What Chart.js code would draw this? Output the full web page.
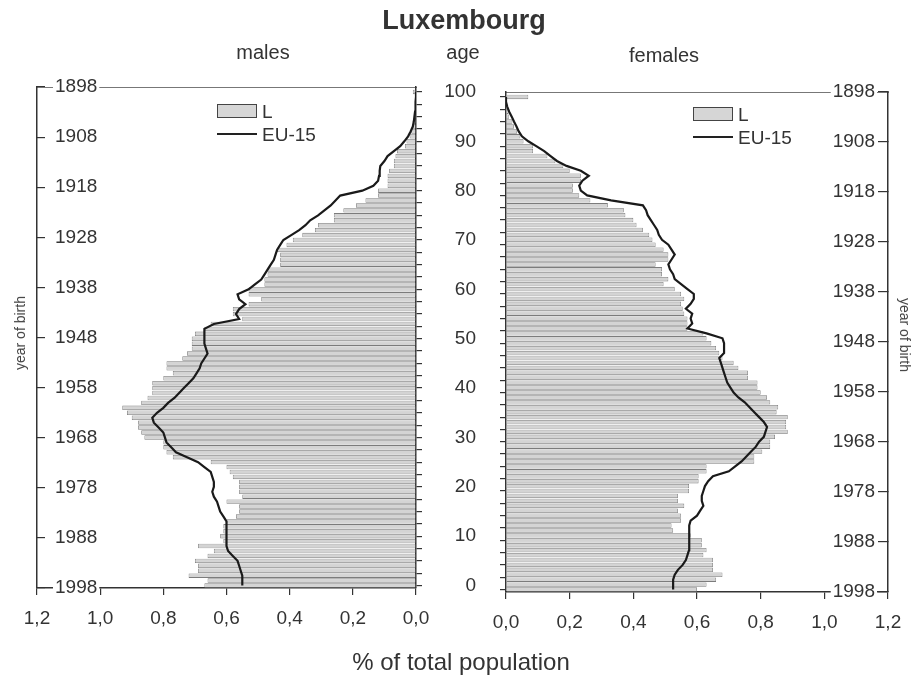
<!DOCTYPE html>
<html>
<head>
<meta charset="utf-8">
<script src="https://cdn.jsdelivr.net/npm/chart.js@4.4.1/dist/chart.umd.min.js"></script>
<style>
  body { margin: 0; background: #fff; font-family: "Liberation Sans", Arial, sans-serif; color: #333; }
  #wrap { position: relative; width: 920px; height: 679px; overflow: hidden; background: #fff; }
  canvas { position: absolute; top: 0; }
  .txt { position: absolute; white-space: nowrap; transform: translate(-50%, -50%); line-height: 1; }
  .lbl { position: absolute; white-space: nowrap; transform: translateY(-50%); font-size: 19px; line-height: 1; }
  .box { position: absolute; border: 1.5px solid #444; background: #d6d6d6; box-sizing: border-box; }
  .ln { position: absolute; height: 2px; background: #222; }
  .rot { font-size: 14px; font-weight: normal; color: #444; }
</style>
</head>
<body>
<div id="wrap">
  <canvas id="males" width="480" height="679" style="left:0"></canvas>
  <canvas id="females" width="440" height="679" style="left:480px"></canvas>

  <div class="txt" style="left:464px; top:20px; font-size:27px; font-weight:bold;">Luxembourg</div>
  <div class="txt" style="left:263px; top:52px; font-size:20px;">males</div>
  <div class="txt" style="left:463px; top:52px; font-size:20px;">age</div>
  <div class="txt" style="left:664px; top:55px; font-size:20px;">females</div>
  <div class="txt" style="left:461px; top:662px; font-size:24px;">% of total population</div>
  <div class="txt rot" style="left:20px; top:333px; transform: translate(-50%, -50%) rotate(-90deg);">year of birth</div>
  <div class="txt rot" style="left:905px; top:335px; transform: translate(-50%, -50%) rotate(90deg);">year of birth</div>

  <!-- legends -->
  <div class="box" style="left:217px; top:104px; width:40px; height:14px;"></div>
  <div class="lbl" style="left:262px; top:111px;">L</div>
  <div class="ln" style="left:217px; top:133px; width:40px;"></div>
  <div class="lbl" style="left:262px; top:134px;">EU-15</div>

  <div class="box" style="left:693px; top:107px; width:40px; height:14px;"></div>
  <div class="lbl" style="left:738px; top:114px;">L</div>
  <div class="ln" style="left:693px; top:136px; width:40px;"></div>
  <div class="lbl" style="left:738px; top:137px;">EU-15</div>
</div>

<script>
// single years of age, 0 .. 100+
const ages = [0,1,2,3,4,5,6,7,8,9,10,11,12,13,14,15,16,17,18,19,20,21,22,23,24,25,26,27,28,29,
  30,31,32,33,34,35,36,37,38,39,40,41,42,43,44,45,46,47,48,49,50,51,52,53,54,55,56,57,58,59,
  60,61,62,63,64,65,66,67,68,69,70,71,72,73,74,75,76,77,78,79,80,81,82,83,84,85,86,87,88,89,
  90,91,92,93,94,95,96,97,98,99,100];

// Luxembourg, % of total population
const maleL = [0.67,0.66,0.72,0.69,0.69,0.70,0.66,0.64,0.69,0.61,
  0.62,0.61,0.61,0.60,0.57,0.56,0.56,0.60,0.55,0.56,
  0.56,0.56,0.58,0.59,0.60,0.65,0.77,0.79,0.80,0.80,
  0.86,0.87,0.88,0.88,0.90,0.915,0.93,0.87,0.85,0.835,
  0.835,0.835,0.80,0.77,0.79,0.79,0.74,0.725,0.71,0.71,
  0.71,0.70,0.67,0.65,0.55,0.58,0.58,0.53,0.49,0.53,
  0.53,0.48,0.48,0.47,0.47,0.43,0.43,0.43,0.44,0.41,
  0.39,0.36,0.32,0.31,0.26,0.26,0.23,0.19,0.16,0.12,
  0.12,0.09,0.09,0.09,0.085,0.07,0.07,0.065,0.06,0.035,
  0.03,0.02,0.015,0.01,0.008,0.006,0.004,0.003,0.002,0.001,
  0.01];

const maleEU = [0.55,0.55,0.55,0.555,0.56,0.565,0.58,0.595,0.60,0.60,
  0.60,0.60,0.60,0.60,0.61,0.62,0.625,0.63,0.64,0.645,
  0.64,0.64,0.645,0.65,0.67,0.69,0.725,0.76,0.775,0.79,
  0.795,0.80,0.815,0.83,0.835,0.82,0.80,0.785,0.765,0.75,
  0.735,0.72,0.705,0.695,0.685,0.68,0.67,0.66,0.665,0.67,
  0.67,0.67,0.67,0.64,0.56,0.57,0.56,0.54,0.56,0.565,
  0.53,0.51,0.49,0.48,0.47,0.46,0.45,0.445,0.44,0.43,
  0.42,0.395,0.37,0.35,0.335,0.31,0.29,0.27,0.255,0.24,
  0.17,0.135,0.12,0.117,0.115,0.113,0.10,0.09,0.07,0.05,
  0.037,0.025,0.017,0.01,0.007,0.005,0.003,0.002,0.001,0,
  0];

const femaleL = [0.60,0.63,0.66,0.68,0.65,0.65,0.65,0.62,0.63,0.615,
  0.615,0.58,0.525,0.52,0.55,0.55,0.54,0.56,0.54,0.54,
  0.575,0.575,0.605,0.605,0.63,0.63,0.78,0.78,0.805,0.83,
  0.83,0.845,0.885,0.88,0.88,0.885,0.85,0.855,0.83,0.82,
  0.80,0.79,0.79,0.76,0.76,0.73,0.715,0.68,0.67,0.66,
  0.645,0.63,0.62,0.57,0.57,0.57,0.56,0.555,0.55,0.56,
  0.55,0.53,0.495,0.51,0.49,0.49,0.47,0.51,0.51,0.495,
  0.47,0.46,0.45,0.43,0.41,0.40,0.375,0.37,0.32,0.265,
  0.23,0.21,0.21,0.235,0.235,0.20,0.18,0.155,0.13,0.085,
  0.085,0.055,0.045,0.035,0.025,0.02,0.01,0.008,0.005,0.003,
  0.07];

const femaleEU = [0.525,0.525,0.525,0.53,0.54,0.555,0.565,0.57,0.575,0.575,
  0.575,0.575,0.575,0.578,0.58,0.60,0.61,0.62,0.615,0.615,
  0.62,0.625,0.635,0.65,0.70,0.72,0.74,0.755,0.77,0.785,
  0.795,0.81,0.815,0.82,0.81,0.795,0.78,0.765,0.75,0.73,
  0.715,0.705,0.695,0.69,0.685,0.68,0.675,0.67,0.685,0.685,
  0.685,0.68,0.63,0.57,0.585,0.58,0.585,0.565,0.58,0.59,
  0.59,0.57,0.55,0.53,0.525,0.515,0.51,0.52,0.53,0.52,
  0.51,0.49,0.48,0.475,0.465,0.455,0.445,0.44,0.43,0.33,
  0.255,0.235,0.23,0.24,0.26,0.235,0.19,0.16,0.14,0.12,
  0.095,0.07,0.05,0.04,0.033,0.025,0.018,0.01,0.004,0,
  0];

const valueTicks = [0, 0.2, 0.4, 0.6, 0.8, 1.0, 1.2];
const ageLabels = [0, 10, 20, 30, 40, 50, 60, 70, 80, 90, 100];
const birthYears = [1898, 1908, 1918, 1928, 1938, 1948, 1958, 1968, 1978, 1988, 1998];

const INK = '#333';
const tickFont = { family: '"Liberation Sans", Arial, sans-serif', size: 19 };

// tick marks every 2.5 years between the labelled ages
function ageTickMarks() {
  const out = [];
  ageLabels.forEach((a, i) => {
    out.push({ value: a });
    if (i < ageLabels.length - 1) {
      out.push({ value: a + 2.5 }, { value: a + 5 }, { value: a + 7.5 });
    }
  });
  return out;
}

function pyramid(id, lData, euData, isLeft) {
  const bars = ages.map((a, i) => ({ x: lData[i], y: a }));
  const line = ages.map((a, i) => ({ x: euData[i], y: a }));

  return new Chart(document.getElementById(id), {
    data: {
      datasets: [
        {
          type: 'line',
          label: 'EU-15',
          data: line,
          borderColor: '#1a1a1a',
          borderWidth: 2.2,
          pointRadius: 0,
          fill: false,
          tension: 0,
          order: 1,
          xAxisID: 'x',
          yAxisID: 'y'
        },
        {
          type: 'bar',
          label: 'L',
          data: bars,
          backgroundColor: '#d4d4d4',
          borderColor: '#7c7c7c',
          borderWidth: 0.8,
          barPercentage: 0.9,
          categoryPercentage: 1,
          order: 2,
          xAxisID: 'x',
          yAxisID: 'y'
        }
      ]
    },
    options: {
      indexAxis: 'y',
      responsive: false,
      animation: false,
      layout: { padding: { left: 0, right: isLeft ? 4 : 0, top: 0, bottom: 0 } },
      plugins: { legend: { display: false }, tooltip: { enabled: false } },
      scales: {
        x: {
          type: 'linear',
          position: 'bottom',
          reverse: isLeft,
          min: 0,
          max: 1.2,
          afterBuildTicks: s => { s.ticks = valueTicks.map(v => ({ value: v })); },
          afterFit: s => { s.height = isLeft ? 91 : 87; },
          ticks: {
            font: tickFont, color: INK, padding: 12,
            callback: v => v.toFixed(1).replace('.', ',')
          },
          grid: { drawOnChartArea: false, tickLength: 7, color: INK, lineWidth: 1.2 },
          border: { color: INK, width: 1.5 }
        },
        xt: {
          type: 'linear',
          position: 'top',
          min: 0,
          max: 1,
          afterFit: s => { s.height = isLeft ? 87 : 92; },
          ticks: { display: false },
          grid: { display: false },
          border: { color: '#777', width: 1 }
        },
        y: {
          type: 'linear',
          position: isLeft ? 'right' : 'left',
          bounds: 'data',
          offset: false,
          min: -0.5,
          max: 101,
          afterBuildTicks: s => { s.ticks = ageTickMarks(); },
          afterFit: s => { s.width = isLeft ? 60 : 26; },
          ticks: {
            autoSkip: false, font: tickFont, color: INK,
            crossAlign: 'far', padding: 4,
            callback: v => (isLeft && ageLabels.includes(v)) ? String(v) : ''
          },
          grid: { offset: false, drawOnChartArea: false, tickLength: 6, color: INK, lineWidth: 1.2 },
          border: { color: INK, width: 1.5 }
        },
        yr: {
          type: 'linear',
          position: isLeft ? 'left' : 'right',
          bounds: 'data',
          reverse: true,
          min: 1898,
          max: 1998,
          afterBuildTicks: s => { s.ticks = birthYears.map(v => ({ value: v })); },
          afterFit: s => { s.width = isLeft ? 37 : 32; },
          ticks: {
            mirror: true, autoSkip: false, font: tickFont, color: INK,
            padding: isLeft ? 18 : -13,
            showLabelBackdrop: true, backdropColor: '#fff', backdropPadding: { x: 2, y: 0 },
            callback: v => String(v)
          },
          grid: { drawOnChartArea: false, tickLength: isLeft ? -8 : -10, color: INK, lineWidth: 1.2 },
          border: { color: INK, width: 1.5 }
        }
      }
    }
  });
}

pyramid('males', maleL, maleEU, true);
pyramid('females', femaleL, femaleEU, false);
</script>
</body>
</html>
